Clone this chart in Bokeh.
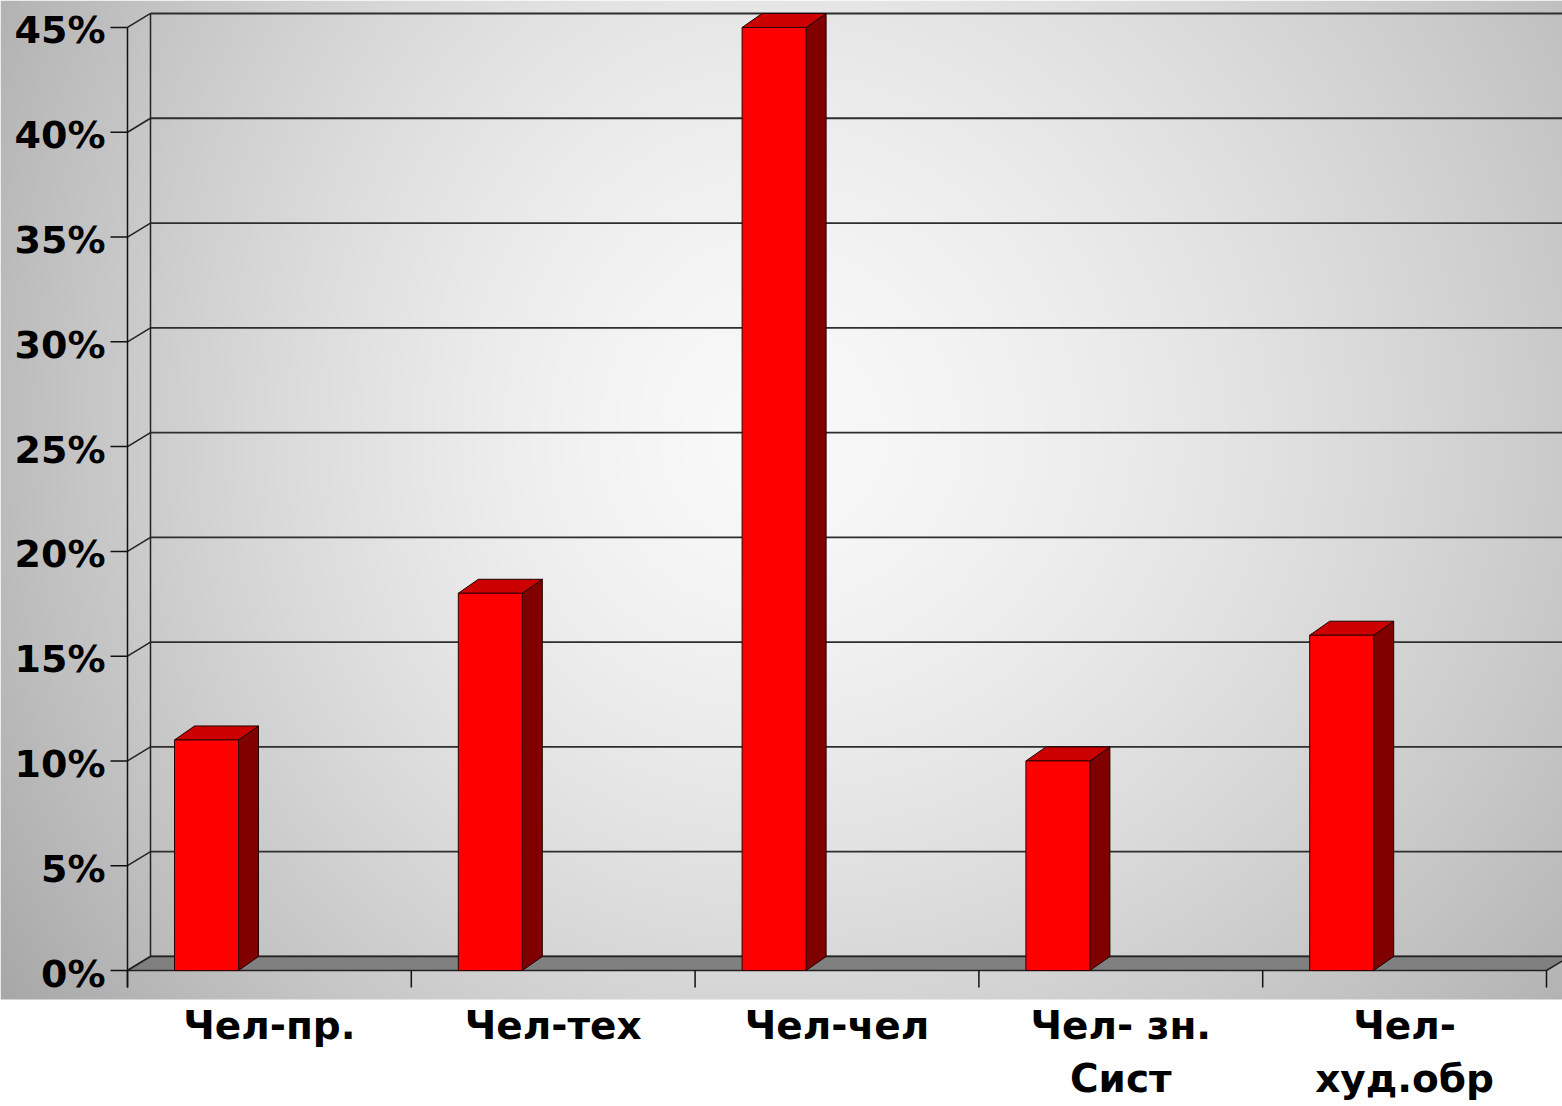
import numpy as np
from bokeh.plotting import figure
from bokeh.models import Range1d
from bokeh.core.properties import value
from bokeh.embed import file_html
from bokeh.resources import INLINE

# ---- data ----
categories = ["Чел-пр.", "Чел-тех", "Чел-чел", "Чел- зн.\nСист", "Чел-\nхуд.обр"]
values = [11, 18, 45, 10, 16]
tick_values = [0, 5, 10, 15, 20, 25, 30, 35, 40, 45]
tick_labels = ["0%", "5%", "10%", "15%", "20%", "25%", "30%", "35%", "40%", "45%"]

# ---- layout constants (pixels) ----
W, H = 1562, 1106
PX_X = 283.8          # px per category
PX_Y = 20.956         # px per percent
OX = 127              # figure px of x = 0
OY = 970              # figure px (from top) of y = 0
BG_BOTTOM = 999       # figure px where gray area ends

x_lo = -OX / PX_X
x_hi = (W - OX) / PX_X
y_hi = OY / PX_Y
y_lo = -(H - OY) / PX_Y
y_bg = -(BG_BOTTOM - OY) / PX_Y

dxw, dyw = 23 / PX_X, 14 / PX_Y      # back wall depth
dxb, dyb = 20 / PX_X, 14 / PX_Y      # bar depth
bar_off, bar_w = 47 / PX_X, 64 / PX_X

p = figure(width=W, height=H, x_range=Range1d(x_lo, x_hi), y_range=Range1d(y_lo, y_hi),
           output_backend="svg", toolbar_location=None, min_border=0,
           x_axis_location=None, y_axis_location=None,
           background_fill_color="white", border_fill_color="white", outline_line_color=None)
p.grid.visible = False

# ---- radial gray gradient background ----
nw, nh = 781, 500
jj = (np.arange(nw) + 0.5) * W / nw
ii = BG_BOTTOM - (np.arange(nh) + 0.5) * BG_BOTTOM / nh
RX, RY = np.meshgrid(jj, ii)
ddx = RX - 760
ddy = RY - 440
ddx = np.where(ddx > 0, ddx * 0.8, ddx)
ddy = np.where(ddy < 0, ddy * 0.8, ddy * 0.95)
d = np.sqrt(ddx ** 2 + ddy ** 2)
g = np.clip(249 - 0.0029 * d ** 1.5, 160, 250).astype(np.uint8)
img = np.empty((nh, nw), dtype=np.uint32)
view = img.view(dtype=np.uint8).reshape((nh, nw, 4))
view[..., 0] = g
view[..., 1] = g
view[..., 2] = g
view[..., 3] = 255
p.image_rgba(image=[img], x=x_lo, y=y_bg, dw=x_hi - x_lo, dh=y_hi - y_bg)

# ---- back wall gridlines and side wall ----
p.segment(x0=[dxw] * len(tick_values), y0=[t + dyw for t in tick_values],
          x1=[x_hi] * len(tick_values), y1=[t + dyw for t in tick_values],
          line_color="#2e2e2e", line_width=1.8)
p.segment(x0=[0] * len(tick_values), y0=tick_values,
          x1=[dxw] * len(tick_values), y1=[t + dyw for t in tick_values],
          line_color="#222222", line_width=1.5)
p.segment(x0=[dxw], y0=[dyw], x1=[dxw], y1=[tick_values[-1] + dyw],
          line_color="#222222", line_width=1.5)

# ---- floor ----
n = len(categories)
p.patch(x=[0, n, n + dxw, dxw], y=[0, 0, dyw, dyw], fill_color="#808080",
        line_color="#222222", line_width=1.5)

# ---- bars ----
xl = [i + bar_off for i in range(n)]
xr = [x + bar_w for x in xl]
p.patches(xs=[[a, a + dxb, a + dxb, a] for a in xr],
          ys=[[0, dyb, v + dyb, v] for v in values],
          fill_color="#800000", line_color="#200000", line_width=1)
p.patches(xs=[[a, b, b + dxb, a + dxb] for a, b in zip(xl, xr)],
          ys=[[v, v, v + dyb, v + dyb] for v in values],
          fill_color="#cc0000", line_color="#200000", line_width=1)
p.quad(left=xl, right=xr, bottom=[0] * n, top=values,
       fill_color="#ff0000", line_color="#300000", line_width=1)

# ---- front axis, ticks ----
tick_len_y = 17 / PX_X
tick_len_x = 17 / PX_Y
p.segment(x0=[0], y0=[-tick_len_x], x1=[0], y1=[tick_values[-1]],
          line_color="#111111", line_width=1.5)
p.segment(x0=[-tick_len_y] * len(tick_values), y0=tick_values,
          x1=[0] * len(tick_values), y1=tick_values,
          line_color="#111111", line_width=1.5)
p.segment(x0=list(range(n + 1)), y0=[0] * (n + 1),
          x1=list(range(n + 1)), y1=[-tick_len_x] * (n + 1),
          line_color="#111111", line_width=1.5)

# ---- tick labels ----
p.text(x=[-22 / PX_X] * len(tick_values), y=[t - 3 / PX_Y for t in tick_values],
       text=tick_labels, text_align="right", text_baseline="alphabetic",
       text_font=value("DejaVu Sans"), text_font_style="bold",
       text_font_size="38px", text_color="black")

# ---- category labels ----
lx, ly, lt = [], [], []
base = -(1025 - 970) / PX_Y
step = 53 / PX_Y
for i, cat in enumerate(categories):
    for k, line in enumerate(cat.split("\n")):
        lx.append(i + 0.5)
        ly.append(base - k * step)
        lt.append(line)
p.text(x=lx, y=ly, text=lt, text_align="center", text_baseline="alphabetic",
       text_font=value("DejaVu Sans"), text_font_style="bold",
       text_font_size="39px", text_color="black")

open("out.html", "w").write(file_html(p, INLINE))
